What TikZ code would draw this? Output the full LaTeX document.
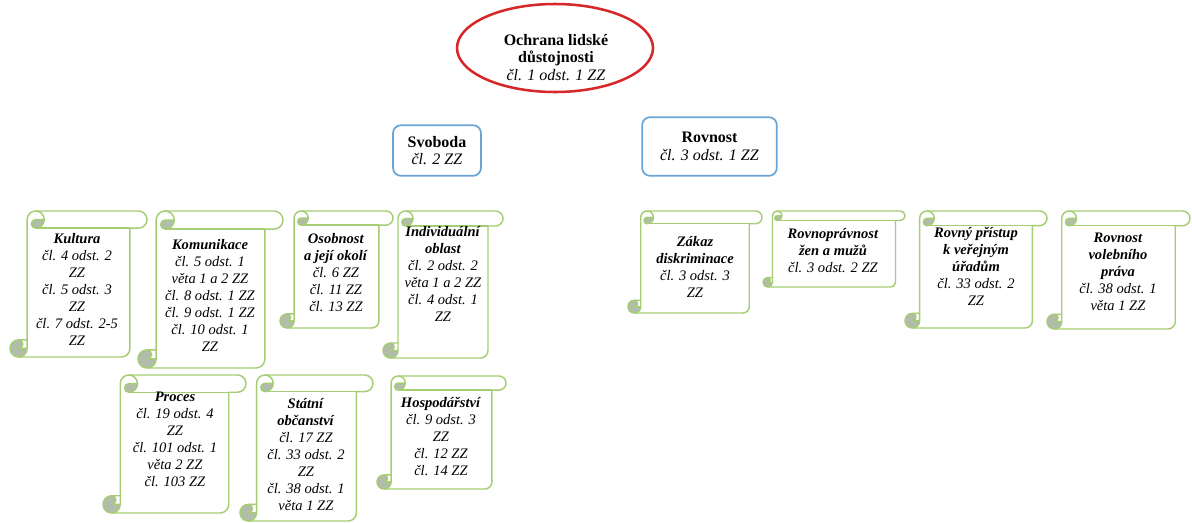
\documentclass[tikz,border=0pt]{standalone}
\usepackage{fontspec}
\setmainfont{Liberation Serif}
\usetikzlibrary{shapes.geometric}
\definecolor{ellred}{RGB}{214,40,40}
\definecolor{boxblue}{RGB}{105,165,215}
\definecolor{scrgreen}{RGB}{165,205,115}
\definecolor{curlfill}{RGB}{178,188,172}
\newcommand\drawscroll[4]{%
  \pgfmathsetmacro\scW{#3-#1}%
  \pgfmathsetmacro\scH{#4-#2}%
  \pgfmathsetmacro\scCh{min(\scW,\scH)/8}%
  \pgfmathsetmacro\scHh{\scCh/2}%
  \pgfmathsetmacro\scQq{\scCh/4}%
  \pgfmathsetmacro\scXt{\scCh+\scHh}%
  \pgfmathsetmacro\scXf{2*\scCh}%
  \begin{scope}[shift={(#1,#2)}]
    \fill[white] (\scHh,\scH) arc[start angle=90,delta angle=-90,radius=\scHh]
      -- (\scCh,\scHh) arc[start angle=180,delta angle=90,radius=\scHh]
      -- ({\scW-\scHh},0) arc[start angle=270,delta angle=180,radius=\scHh]
      -- ({\scW-\scCh},\scCh) -- ({\scW-\scCh},{\scH-\scHh})
      arc[start angle=0,delta angle=90,radius=\scHh] -- cycle;
    \fill[curlfill] (\scXf,\scHh) arc[start angle=0,delta angle=90,radius=\scHh]
      arc[start angle=90,delta angle=180,radius=\scQq] -- cycle;
    \fill[curlfill] (\scCh,{\scH-\scHh}) arc[start angle=0,delta angle=270,radius=\scHh]
      arc[start angle=270,delta angle=180,radius=\scQq] -- cycle;
    \draw[scroll line] (\scCh,{\scH-\scCh}) -- (\scCh,\scHh)
      arc[start angle=180,delta angle=90,radius=\scHh]
      -- ({\scW-\scHh},0) arc[start angle=270,delta angle=180,radius=\scHh]
      -- ({\scW-\scCh},\scCh) -- ({\scW-\scCh},{\scH-\scHh})
      arc[start angle=0,delta angle=90,radius=\scHh]
      -- (\scHh,\scH) arc[start angle=90,delta angle=180,radius=\scHh] -- cycle;
    \draw[scroll line] (\scXt,0) arc[start angle=270,delta angle=180,radius=\scHh]
      arc[start angle=90,delta angle=180,radius=\scQq] -- (\scXf,\scHh);
    \draw[scroll line] ({\scW-\scCh},\scCh) -- (\scXt,\scCh);
    \draw[scroll line] (\scHh,{\scH-\scCh}) arc[start angle=270,delta angle=180,radius=\scQq]
      -- (\scCh,{\scH-\scHh});
    \draw[scroll line] (\scHh,\scH) arc[start angle=90,delta angle=-90,radius=\scHh]
      -- (\scCh,{\scH-\scCh});
  \end{scope}}
\tikzset{
  scroll line/.style={draw=scrgreen, line width=1.1pt, line join=round},
  scrolltext/.style={align=center, inner sep=0pt, text=black,
    font=\fontsize{10.9}{12.75}\selectfont},
  mainbox/.style={draw=boxblue, line width=1.3pt, rounded corners=6pt, fill=white,
    align=center, inner sep=0pt, font=\fontsize{12}{13.1}\selectfont},
  topell/.style={ellipse, draw=ellred, line width=1.9pt, fill=white, inner sep=0pt},
  toptext/.style={align=center, inner sep=0pt, font=\fontsize{12}{13.1}\selectfont}
}
\newcommand\hd[1]{\textbf{\textit{#1}}}
\begin{document}
\begin{tikzpicture}[x=0.75pt,y=-0.75pt]
\useasboundingbox[fill=white] (0,0) rectangle (1192,522);
% top ellipse
\node[topell, minimum width=147pt, minimum height=66pt] (ochrana) at (555,48) {};
\node[toptext] (ochranatext) at (556,57.5) {\textbf{Ochrana lidské}\\\textbf{důstojnosti}\\\textit{čl. 1 odst. 1 ZZ}};
% main boxes
\node[mainbox, minimum width=66pt, minimum height=38pt] (svoboda) at (437,150.5) {\textbf{Svoboda}\\\textit{čl. 2 ZZ}};
\node[mainbox, minimum width=101pt, minimum height=44pt] (rovnost) at (709.5,146.5) {\textbf{Rovnost}\\\textit{čl. 3 odst. 1 ZZ}};
% scrolls
\drawscroll{10}{211}{147}{357}
\node[scrolltext] (kultura) at (77,289) {\hd{Kultura}\\\textit{čl. 4 odst. 2}\\\textit{ZZ}\\\textit{čl. 5 odst. 3}\\\textit{ZZ}\\\textit{čl. 7 odst. 2-5}\\\textit{ZZ}};
\drawscroll{138}{211}{283}{368}
\node[scrolltext] (komunikace) at (210,295) {\hd{Komunikace}\\\textit{čl. 5 odst. 1}\\\textit{věta 1 a 2 ZZ}\\\textit{čl. 8 odst. 1 ZZ}\\\textit{čl. 9 odst. 1 ZZ}\\\textit{čl. 10 odst. 1}\\\textit{ZZ}};
\drawscroll{280}{211}{393}{328}
\node[scrolltext] (osobnost) at (336,272.5) {\hd{Osobnost}\\\hd{a její okolí}\\\textit{čl. 6 ZZ}\\\textit{čl. 11 ZZ}\\\textit{čl. 13 ZZ}};
\drawscroll{383}{211}{503}{358}
\node[scrolltext] (individualni) at (443,274) {\hd{Individuální}\\\hd{oblast}\\\textit{čl. 2 odst. 2}\\\textit{věta 1 a 2 ZZ}\\\textit{čl. 4 odst. 1}\\\textit{ZZ}};
\drawscroll{103}{375}{246}{513}
\node[scrolltext] (proces) at (175,439.5) {\hd{Proces}\\\textit{čl. 19 odst. 4}\\\textit{ZZ}\\\textit{čl. 101 odst. 1}\\\textit{věta 2 ZZ}\\\textit{čl. 103 ZZ}};
\drawscroll{240}{375}{373}{521}
\node[scrolltext] (statni) at (306,454.5) {\hd{Státní}\\\hd{občanství}\\\textit{čl. 17 ZZ}\\\textit{čl. 33 odst. 2}\\\textit{ZZ}\\\textit{čl. 38 odst. 1}\\\textit{věta 1 ZZ}};
\drawscroll{377}{376}{506}{489}
\node[scrolltext] (hospodarstvi) at (441,436) {\hd{Hospodářství}\\\textit{čl. 9 odst. 3}\\\textit{ZZ}\\\textit{čl. 12 ZZ}\\\textit{čl. 14 ZZ}};
\drawscroll{628}{211}{762}{313}
\node[scrolltext] (zakaz) at (695,267) {\hd{Zákaz}\\\hd{diskriminace}\\\textit{čl. 3 odst. 3}\\\textit{ZZ}};
\drawscroll{763}{211}{905}{287}
\node[scrolltext] (rovnopravnost) at (833,251) {\hd{Rovnoprávnost}\\\hd{žen a mužů}\\\textit{čl. 3 odst. 2 ZZ}};
\drawscroll{905}{211}{1047}{328}
\node[scrolltext] (pristup) at (976,266.5) {\hd{Rovný přístup}\\\hd{k veřejným}\\\hd{úřadům}\\\textit{čl. 33 odst. 2}\\\textit{ZZ}};
\drawscroll{1047}{211}{1190}{329}
\node[scrolltext] (volebni) at (1118,271.5) {\hd{Rovnost}\\\hd{volebního}\\\hd{práva}\\\textit{čl. 38 odst. 1}\\\textit{věta 1 ZZ}};
\end{tikzpicture}
\end{document}
